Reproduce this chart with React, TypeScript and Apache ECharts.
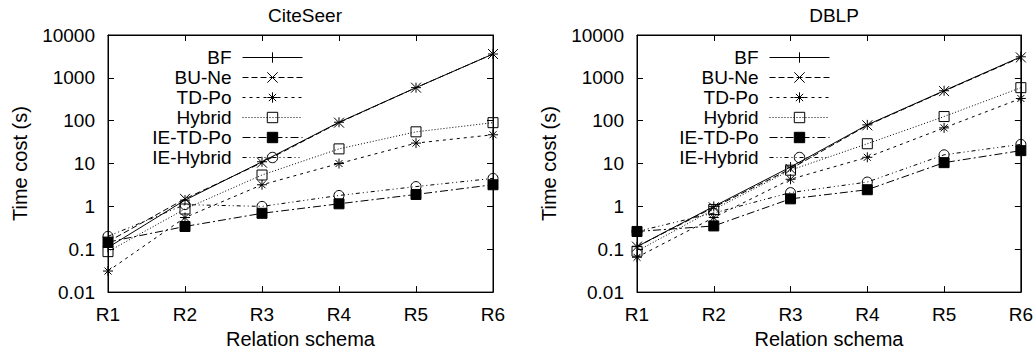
import React, { useEffect, useRef } from "react";
import * as echarts from "echarts";

const categories = ["R1", "R2", "R3", "R4", "R5", "R6"];
const seriesNames = ["BF", "BU-Ne", "TD-Po", "Hybrid", "IE-TD-Po", "IE-Hybrid"];
const panelTitles = ["CiteSeer", "DBLP"];
const yTickLabels = ["0.01", "0.1", "1", "10", "100", "1000", "10000"];

const citeBF = [0.11, 1.4, 11, 92, 590, 3600];
const citeBUNe = [0.15, 1.5, 10.5, 90, 590, 3600];
const citeTDPo = [0.031, 0.55, 3.2, 10, 30, 47];
const citeHybrid = [0.088, 0.87, 5.4, 22, 55, 90];
const citeIETDPo = [0.147, 0.34, 0.69, 1.15, 1.9, 3.2];
const citeIEHybrid = [0.2, 1.1, 1.0, 1.8, 2.9, 4.5];

const dblpBF = [0.115, 1.0, 8.3, 80, 500, 3100];
const dblpBUNe = [0.115, 0.95, 7.5, 78, 490, 3000];
const dblpTDPo = [0.065, 0.55, 4.3, 14, 68, 330];
const dblpHybrid = [0.09, 0.85, 7, 29, 125, 590];
const dblpIETDPo = [0.26, 0.35, 1.5, 2.45, 10.5, 20];
const dblpIEHybrid = [0.26, 0.7, 2.1, 3.7, 16, 28];

const citeData = [citeBF, citeBUNe, citeTDPo, citeHybrid, citeIETDPo, citeIEHybrid];
const dblpData = [dblpBF, dblpBUNe, dblpTDPo, dblpHybrid, dblpIETDPo, dblpIEHybrid];

const FONT = "Liberation Sans, Arial, Helvetica, sans-serif";

const styles: any[] = [
  { symbol: "path://M5,0L5,10M0,5L10,5", fill: "transparent", dash: "solid" },
  { symbol: "path://M0,0L10,10M10,0L0,10", fill: "transparent", dash: [6, 3] },
  { symbol: "path://M5,0L5,10M0,5L10,5M1.5,1.5L8.5,8.5M8.5,1.5L1.5,8.5", fill: "transparent", dash: [3, 4] },
  { symbol: "rect", fill: "transparent", dash: [1, 2] },
  { symbol: "rect", fill: "#000", dash: [8, 3, 2, 3] },
  { symbol: "circle", fill: "transparent", dash: [4, 3, 1, 3, 1, 3] },
];

export default function App() {
  const ref = useRef<HTMLDivElement>(null);
  useEffect(() => {
    if (!ref.current) return;
    const chart = echarts.init(ref.current, null, { renderer: "svg" });
    const grids = [
      { left: 108, top: 35, width: 385, height: 263 },
      { left: 637, top: 35, width: 384, height: 263 },
    ];
    const xAxes: any[] = [];
    const yAxes: any[] = [];
    grids.forEach((g, i) => {
      xAxes.push({
        type: "category",
        gridIndex: i,
        data: categories,
        boundaryGap: false,
        position: "bottom",
        name: "Relation schema",
        nameLocation: "middle",
        nameGap: 30,
        nameTextStyle: { color: "#000", fontSize: 20, fontFamily: FONT },
        axisLine: { lineStyle: { color: "#000", width: 1 } },
        axisTick: { inside: true, length: 6, lineStyle: { color: "#000" } },
        axisLabel: { color: "#000", fontSize: 19, fontFamily: FONT, margin: 13 },
        splitLine: { show: false },
      });
      xAxes.push({
        type: "category",
        gridIndex: i,
        data: categories,
        boundaryGap: false,
        position: "top",
        axisLine: { lineStyle: { color: "#000", width: 1 } },
        axisTick: { inside: true, length: 6, lineStyle: { color: "#000" } },
        axisLabel: { show: false },
        splitLine: { show: false },
      });
      yAxes.push({
        type: "log",
        logBase: 10,
        gridIndex: i,
        min: 0.01,
        max: 10000,
        interval: 1,
        position: "left",
        name: "Time cost (s)",
        nameLocation: "middle",
        nameGap: 78,
        nameTextStyle: { color: "#000", fontSize: 20, fontFamily: FONT },
        axisLine: { show: true, lineStyle: { color: "#000", width: 1 } },
        axisTick: { show: true, inside: true, length: 6, lineStyle: { color: "#000" } },
        axisLabel: {
          color: "#000",
          fontSize: 19,
          fontFamily: FONT,
          margin: 13,
          formatter: (v: number) => {
            const e = Math.round(Math.log10(v));
            return yTickLabels[e + 2] ?? String(v);
          },
        },
        splitLine: { show: false },
        minorTick: { show: false },
      });
      yAxes.push({
        type: "log",
        logBase: 10,
        gridIndex: i,
        min: 0.01,
        max: 10000,
        interval: 1,
        position: "right",
        axisLine: { show: true, lineStyle: { color: "#000", width: 1 } },
        axisTick: { show: true, inside: true, length: 6, lineStyle: { color: "#000" } },
        axisLabel: { show: false },
        splitLine: { show: false },
      });
    });

    const series: any[] = [];
    [citeData, dblpData].forEach((panel, pi) => {
      panel.forEach((vals, si) => {
        const st = styles[si];
        series.push({
          type: "line",
          name: seriesNames[si],
          xAxisIndex: pi * 2,
          yAxisIndex: pi * 2,
          data: vals,
          symbol: st.symbol,
          symbolSize: 10,
          showSymbol: true,
          lineStyle: { color: "#000", width: 1, type: st.dash },
          itemStyle: { color: st.fill, borderColor: "#000", borderWidth: 1 },
          emphasis: { disabled: true },
          z: 2 + si,
        });
      });
    });

    const legendCommon = {
      orient: "vertical",
      align: "right",
      top: 48,
      padding: 0,
      itemWidth: 60,
      itemHeight: 13,
      itemGap: 1,
      data: seriesNames,
      textStyle: { color: "#000", fontSize: 19, fontFamily: FONT, padding: [0, 6, 0, 0] },
      lineStyle: { width: 1 },
      itemStyle: { borderWidth: 1 },
      selectedMode: false,
    };

    chart.setOption({
      animation: false,
      backgroundColor: "#fff",
      title: [
        { text: panelTitles[0], left: 300, top: 1, textAlign: "center", textStyle: { color: "#000", fontSize: 19, fontWeight: "normal", fontFamily: FONT } },
        { text: panelTitles[1], left: 829, top: 1, textAlign: "center", textStyle: { color: "#000", fontSize: 19, fontWeight: "normal", fontFamily: FONT } },
      ],
      legend: [
        { ...legendCommon, right: 733 },
        { ...legendCommon, right: 206 },
      ],
      grid: grids.map((g) => ({ ...g, show: true, borderColor: "#000", borderWidth: 1, backgroundColor: "transparent" })),
      xAxis: xAxes,
      yAxis: yAxes,
      series,
    });
    return () => chart.dispose();
  }, []);
  return <div ref={ref} style={{ position: "fixed", left: 0, top: 0, width: 1036, height: 354, background: "#fff" }} />;
}
